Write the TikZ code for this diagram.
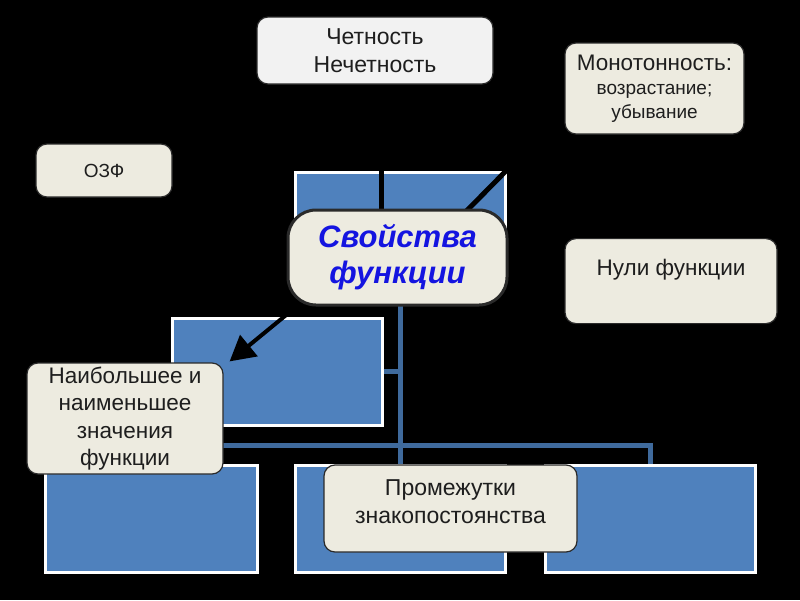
\documentclass[tikz,border=0pt]{standalone}
\usepackage{fontspec}
\setmainfont{Liberation Sans}
\usetikzlibrary{arrows.meta}
\definecolor{rectblue}{HTML}{4F81BD}
\definecolor{linkblue}{HTML}{3F6A9C}
\definecolor{beige}{HTML}{EDEBE0}
\definecolor{lightgrey}{HTML}{F2F2F2}
\definecolor{edge}{HTML}{2A2A2A}
\definecolor{titleblue}{HTML}{1414E0}
\definecolor{txt}{HTML}{1E1E1E}
\tikzset{
  bluebox/.style={draw=white, line width=3pt, fill=rectblue, inner sep=0pt},
  tagbox/.style={draw=edge, line width=1.2pt, fill=beige, rounded corners=11pt, align=center, text=txt, inner sep=0pt},
  link/.style={draw=linkblue, line width=5pt},
  blackline/.style={draw=black, line width=5pt},
}
\begin{document}
\begin{tikzpicture}[x=1pt,y=-1pt]
\fill[black] (0,0) rectangle (800,600);
\useasboundingbox (0,0) rectangle (800,600);

% blue rectangles
\node[bluebox, minimum width=210pt, minimum height=98pt] (r0) at (400,221) {};
\node[bluebox, minimum width=210pt, minimum height=107pt] (r1) at (277,371.5) {};
\node[bluebox, minimum width=212pt, minimum height=107pt] (rA) at (151,518.5) {};
\node[bluebox, minimum width=210pt, minimum height=107pt] (rB) at (400,518.5) {};
\node[bluebox, minimum width=210pt, minimum height=107pt] (rC) at (650,518.5) {};

% blue connectors (behind the labels)
\coordinate (bus) at (400,445);
\coordinate (svbot) at (400,300);
\draw[link] (rA.north) -- (rA.north |- bus) -- (rC.north |- bus) -- (rC.north);
\draw[link] (r1.east) -- (r1.east -| bus);
\draw[link] (svbot) -- (rB.north);

% black connectors (behind the labels)
\coordinate (chtbot) at (381,84);
\coordinate (monoleft) at (565,111);
\coordinate (svtopA) at (381,212);
\coordinate (svtopB) at (465.5,212);
\draw[blackline] (chtbot) -- (svtopA);
\draw[blackline] (monoleft) -- (svtopB);

% labels
\node[tagbox, fill=lightgrey, minimum width=236pt, minimum height=67pt, font=\fontsize{23}{28}\selectfont] (cht) at (375,50.5) {Четность\\Нечетность};
\node[tagbox, minimum width=179pt, minimum height=91pt, font=\fontsize{19}{24}\selectfont] (mono) at (654.5,88.5)
  {{\fontsize{22.5}{24}\selectfont Монотонность:}\\возрастание;\\убывание};
\node[tagbox, minimum width=136pt, minimum height=53pt, font=\fontsize{19}{22}\selectfont] (ozf) at (104,170.5) {ОЗФ};
\node[tagbox, minimum width=212pt, inner ysep=21pt, text height=16pt, text depth=27pt, font=\fontsize{22.5}{26}\selectfont, anchor=north] (nuli) at (671,238) {Нули функции};
\node[tagbox, minimum width=196pt, minimum height=111pt, font=\fontsize{22.5}{27.5}\selectfont] (nai) at (125,418.5) {Наибольшее и\\наименьшее\\значения\\функции};
\node[tagbox, minimum width=253pt, minimum height=87pt, font=\fontsize{23}{28}\selectfont] (prom) at (450.5,508.5) {Промежутки\\знакопостоянства\\[-14pt]};

\node[tagbox, draw=edge, line width=3pt, rounded corners=28pt, minimum width=219pt, minimum height=95pt, text=titleblue, font=\fontsize{31}{36}\selectfont\bfseries\itshape] (sv) at (397.5,257.5) {Свойства\\функции};
\draw[black, line width=4pt, -{Triangle[length=25pt, width=27pt]}] ([xshift=10pt]sv.south west) -- ([xshift=6pt,yshift=1pt]nai.north east);
\end{tikzpicture}
\end{document}
